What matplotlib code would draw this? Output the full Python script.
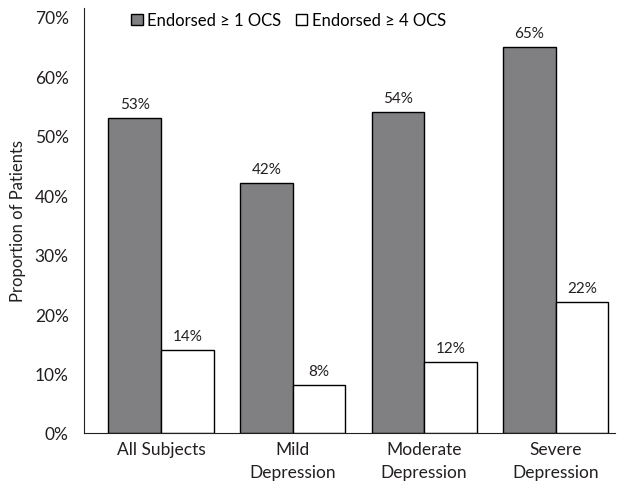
import numpy as np
import matplotlib.pyplot as plt

plt.rcParams['font.family'] = ['Lato', 'DejaVu Sans']

groups = ['All Subjects', 'Mild\nDepression', 'Moderate\nDepression', 'Severe\nDepression']
ge1 = [53, 42, 54, 65]
ge4 = [14, 8, 12, 22]

fig = plt.figure(figsize=(6.19, 4.85), dpi=100)
ax = fig.add_axes([84 / 619, 1 - 434 / 485, (615 - 84) / 619, (434 - 9) / 485])

x = np.arange(len(groups))
w = 0.4
b1 = ax.bar(x - w / 2, ge1, w, color='#808083', edgecolor='black', linewidth=1,
            label='Endorsed \u2265 1 OCS')
b2 = ax.bar(x + w / 2, ge4, w, color='white', edgecolor='black', linewidth=1,
            label='Endorsed \u2265 4 OCS')

for bars, vals in ((b1, ge1), (b2, ge4)):
    for r, v in zip(bars, vals):
        ax.text(r.get_x() + r.get_width() / 2, v + 1.2, f'{v}%', ha='center', va='bottom',
                fontsize=11, color='#231f20')

ax.set_xlim(-0.585, 3.45)
ax.set_ylim(0, 71.5)
ax.set_yticks(range(0, 71, 10))
ax.set_yticklabels([f'{t}%' for t in range(0, 71, 10)])
ax.set_xticks(x)
ax.set_xticklabels(groups, linespacing=1.5)
ax.tick_params(length=0, labelsize=12.5, colors='#231f20')
ax.tick_params(axis='y', pad=11)
ax.tick_params(axis='x', pad=6)
for s in ('top', 'right'):
    ax.spines[s].set_visible(False)
ax.spines['left'].set_color('#231f20')
ax.spines['bottom'].set_color('#231f20')
ax.set_ylabel('Proportion of Patients', fontsize=12, color='#231f20', labelpad=6)

ax.legend(loc='upper left', bbox_to_anchor=(0.06, 1.025), ncol=2, frameon=False,
          fontsize=12, handlelength=0.7, handleheight=0.7, handletextpad=0.25,
          columnspacing=0.9)

fig.savefig('out.png', dpi=100)
